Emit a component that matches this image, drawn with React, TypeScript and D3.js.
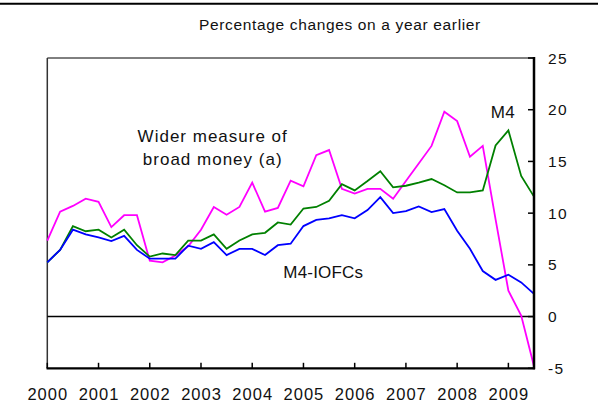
import React from "react";
import * as d3 from "d3";

const quarters: number[] = [
  2000, 2000.25, 2000.5, 2000.75, 2001, 2001.25, 2001.5, 2001.75,
  2002, 2002.25, 2002.5, 2002.75, 2003, 2003.25, 2003.5, 2003.75,
  2004, 2004.25, 2004.5, 2004.75, 2005, 2005.25, 2005.5, 2005.75,
  2006, 2006.25, 2006.5, 2006.75, 2007, 2007.25, 2007.5, 2007.75,
  2008, 2008.25, 2008.5, 2008.75, 2009, 2009.25, 2009.5,
];

const widerMoney: number[] = [
  7.35, 10.15, 10.7, 11.4, 11.1, 8.65, 9.8, 9.8, 5.4, 5.25,
  5.9, 6.8, 8.4, 10.6, 9.85, 10.6, 12.95, 10.15, 10.5, 13.15,
  12.6, 15.6, 16.1, 12.35, 11.9, 12.35, 12.35, 11.4, 13.1, 14.8,
  16.5, 19.8, 18.9, 15.45, 16.5, 9.4, 2.5, 0.1, -4.8,
];

const m4: number[] = [
  5.25, 6.45, 8.75, 8.25, 8.4, 7.65, 8.4, 6.9, 5.8, 6.1,
  5.95, 7.35, 7.35, 7.95, 6.55, 7.35, 7.95, 8.1, 9.1, 8.9,
  10.45, 10.6, 11.2, 12.8, 12.2, 13.1, 14.05, 12.5, 12.65, 12.95,
  13.3, 12.7, 12.0, 12.0, 12.2, 16.55, 18.0, 13.6, 11.6,
];

const m4IOFCs: number[] = [
  5.25, 6.45, 8.4, 7.95, 7.65, 7.3, 7.8, 6.45, 5.6, 5.6,
  5.6, 6.85, 6.55, 7.2, 5.95, 6.55, 6.55, 5.95, 6.9, 7.05,
  8.75, 9.35, 9.5, 9.8, 9.5, 10.3, 11.55, 10.0, 10.2, 10.65,
  10.1, 10.4, 8.3, 6.55, 4.4, 3.55, 4.05, 3.3, 2.2,
];

const yearTicks: number[] = [2000, 2001, 2002, 2003, 2004, 2005, 2006, 2007, 2008, 2009];
const valueTicks: number[] = [-5, 0, 5, 10, 15, 20, 25];

const seriesList = [
  { name: "wider", values: widerMoney, color: "#FF00FF" },
  { name: "m4", values: m4, color: "#008000" },
  { name: "m4iofcs", values: m4IOFCs, color: "#0000FF" },
];

const W = 598;
const H = 403;
const left = 47.3;
const right = 534;
const top = 58;
const bottom = 368.3;
const font = "'Liberation Sans', Arial, Helvetica, sans-serif";

export default function App() {
  const x = d3.scaleLinear().domain([2000, 2009.5]).range([left, right]);
  const y = d3.scaleLinear().domain([-5, 25]).range([bottom, top]);

  const line = (vals: number[]) =>
    d3
      .line<number>()
      .x((_, i) => x(quarters[i]))
      .y((v) => y(v))(vals) || "";

  return (
    <svg
      width={W}
      height={H}
      viewBox={`0 0 ${W} ${H}`}
      style={{ position: "absolute", left: 0, top: 0, background: "#fff" }}
      fontFamily={font}
    >
      <rect x={0} y={0} width={W} height={H} fill="#fff" />
      {/* top rule */}
      <line x1={0} x2={W} y1={3.7} y2={3.7} stroke="#000" strokeWidth={2} />

      <text x={199} y={29.5} fontSize={15.5} letterSpacing={0.65} fill="#111">
        Percentage changes on a year earlier
      </text>

      {/* frame */}
      <line x1={left} x2={right} y1={top} y2={top} stroke="#000" strokeWidth={1} />
      <line x1={left} x2={left} y1={top} y2={bottom} stroke="#333" strokeWidth={1.5} />

      {/* zero line */}
      <line x1={left} x2={right} y1={y(0)} y2={y(0)} stroke="#000" strokeWidth={1.5} />

      {/* series */}
      {seriesList.map((s) => (
        <path
          key={s.name}
          d={line(s.values)}
          fill="none"
          stroke={s.color}
          strokeWidth={1.8}
          strokeLinejoin="miter"
        />
      ))}

      {/* right axis */}
      <line x1={right} x2={right} y1={top - 1} y2={bottom + 1} stroke="#000" strokeWidth={2.5} />
      {valueTicks.map((v) => (
        <g key={v}>
          <line x1={right - 6} x2={right} y1={y(v)} y2={y(v)} stroke="#000" strokeWidth={1.5} />
          <text
            x={548}
            y={y(v)}
            dy="0.36em"
            fontSize={15.5}
            letterSpacing={1.3}
            fill="#111"
          >
            {v}
          </text>
        </g>
      ))}

      {/* bottom axis */}
      <line x1={left - 0.75} x2={right + 1} y1={bottom} y2={bottom} stroke="#000" strokeWidth={2.2} />
      {yearTicks.map((t) => (
        <g key={t}>
          <line x1={x(t)} x2={x(t)} y1={bottom} y2={bottom - 5.5} stroke="#000" strokeWidth={1.5} />
          <text
            x={x(t) + 0.5}
            y={400}
            textAnchor="middle"
            fontSize={16.5}
            letterSpacing={1}
            fill="#111"
          >
            {t}
          </text>
        </g>
      ))}

      {/* annotations */}
      <text x={212.7} y={141.7} textAnchor="middle" fontSize={17} letterSpacing={1} fill="#111">
        Wider measure of
      </text>
      <text x={212.7} y={165} textAnchor="middle" fontSize={17} letterSpacing={1} fill="#111">
        broad money (a)
      </text>
      <text x={490.7} y={118.3} fontSize={17} letterSpacing={0.3} fill="#111">
        M4
      </text>
      <text x={283.3} y={278.3} fontSize={17} letterSpacing={0.2} fill="#111">
        M4-IOFCs
      </text>
    </svg>
  );
}
